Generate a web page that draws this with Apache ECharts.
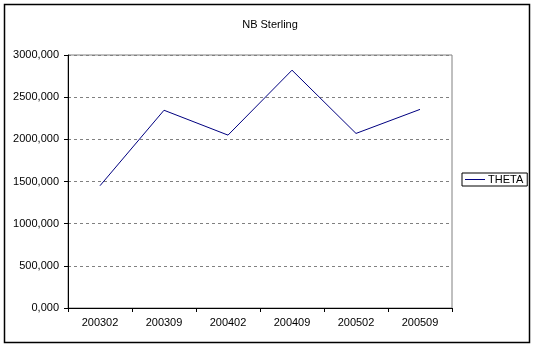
<!DOCTYPE html>
<html>
<head>
<meta charset="utf-8">
<style>
html,body{margin:0;padding:0;background:#fff;}
#chart{width:535px;height:348px;}
</style>
<script src="https://cdn.jsdelivr.net/npm/echarts@6/dist/echarts.min.js"></script>
</head>
<body>
<div id="chart"></div>
<script>
var categories = ['200302', '200309', '200402', '200409', '200502', '200509'];
var thetaValues = [1450, 2345, 2050, 2820, 2070, 2355];
var seriesName = 'THETA';
var titleText = 'NB Sterling';

var chart = echarts.init(document.getElementById('chart'), null, {renderer: 'canvas'});
var font = 'Arial, "Liberation Sans", sans-serif';
chart.setOption({
  animation: false,
  backgroundColor: '#ffffff',
  textStyle: {fontFamily: font},
  title: {
    text: titleText,
    left: 265, top: 14, textAlign: 'center',
    textStyle: {fontSize: 11, fontWeight: 'normal', color: '#000', fontFamily: font}
  },
  graphic: [{
    type: 'rect',
    shape: {x: 4.5, y: 4.5, width: 525, height: 338},
    style: {fill: 'none', stroke: '#000', lineWidth: 1.5},
    silent: true
  }],
  legend: {
    left: 462, top: 173,
    orient: 'vertical',
    data: [{name: seriesName, icon: 'rect'}],
    itemWidth: 20, itemHeight: 1,
    itemGap: 0,
    padding: [1, 4, 1, 3],
    borderColor: '#000', borderWidth: 1,
    textStyle: {fontSize: 11, color: '#000', fontFamily: font, padding: [0, 0, 0, -2]}
  },
  grid: {
    left: 68, top: 55, width: 384, height: 253,
    show: true, borderColor: '#808080', borderWidth: 1,
    containLabel: false
  },
  xAxis: {
    type: 'category',
    data: categories,
    boundaryGap: true,
    axisLine: {lineStyle: {color: '#000', width: 1}},
    axisTick: {show: true, length: 4, inside: false, alignWithLabel: false, lineStyle: {color: '#000'}},
    axisLabel: {fontSize: 11, color: '#000', margin: 9, fontFamily: font},
    splitLine: {show: false}
  },
  yAxis: {
    type: 'value',
    min: 0, max: 3000, interval: 500,
    axisLine: {show: true, lineStyle: {color: '#000', width: 1}},
    axisTick: {show: true, length: 4, lineStyle: {color: '#000'}},
    axisLabel: {
      fontSize: 11, color: '#000', margin: 9, fontFamily: font,
      formatter: function (v) { return v.toFixed(3).replace('.', ','); }
    },
    splitLine: {show: true, lineStyle: {color: '#808080', type: [3, 3], width: 1}}
  },
  series: [{
    name: seriesName,
    type: 'line',
    data: thetaValues,
    symbol: 'none',
    lineStyle: {color: '#000080', width: 1},
    itemStyle: {color: '#000080'}
  }]
});
</script>
</body>
</html>
